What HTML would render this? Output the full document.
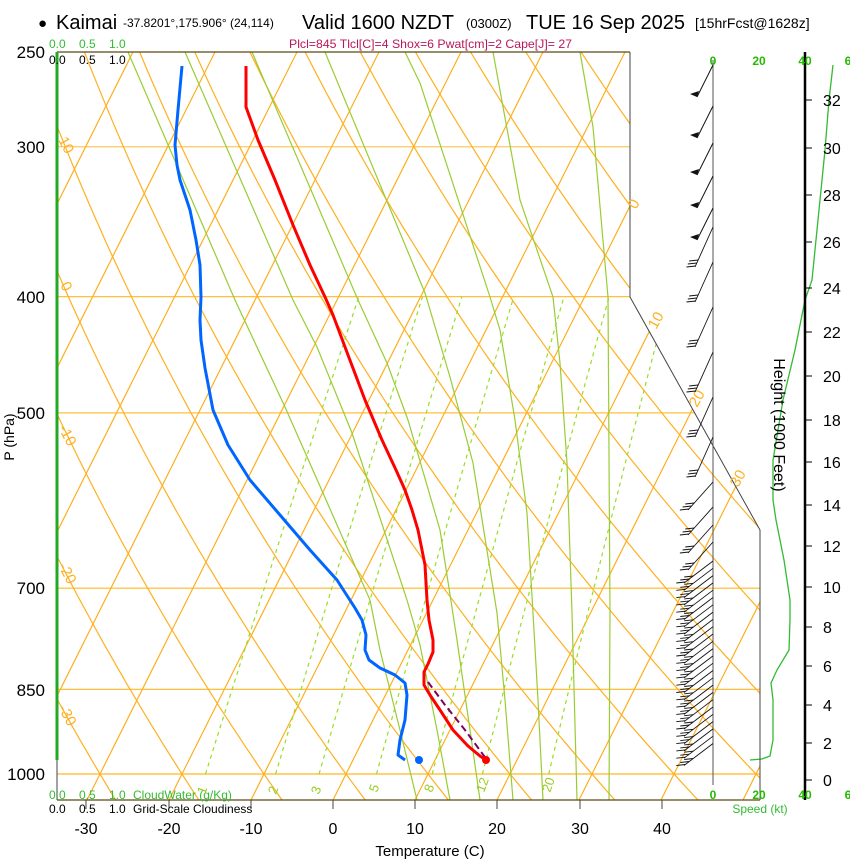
<!DOCTYPE html>
<html><head><meta charset="utf-8">
<style>
html,body{margin:0;padding:0;background:#fff;}
svg{display:block;font-family:"Liberation Sans",Arial,sans-serif;}
</style></head>
<body>
<svg id="s" width="850" height="860" viewBox="0 0 850 860" xmlns="http://www.w3.org/2000/svg">
<defs>
<clipPath id="cp"><polygon points="57,52 630,52 630,297 760,530 760,800 57,800"/></clipPath>
</defs>
<g id="grid" clip-path="url(#cp)"></g>
<g id="data"></g>
<!-- frame -->
<line x1="57" y1="52" x2="630" y2="52" stroke="#5a4a10" stroke-width="1.2"/>
<line x1="57" y1="800" x2="760" y2="800" stroke="#5a4a10" stroke-width="1.2"/>
<polyline points="630,52 630,297 760,530 760,800" fill="none" stroke="#444" stroke-width="1"/>
<line x1="57" y1="760" x2="57" y2="800" stroke="#444" stroke-width="1"/>
<line x1="57" y1="52" x2="57" y2="760" stroke="#22aa22" stroke-width="3"/>
<g stroke="#444" stroke-width="1">
<line x1="86" y1="800" x2="86" y2="809"/><line x1="169" y1="800" x2="169" y2="809"/>
<line x1="251" y1="800" x2="251" y2="809"/><line x1="333" y1="800" x2="333" y2="809"/>
<line x1="415" y1="800" x2="415" y2="809"/><line x1="497" y1="800" x2="497" y2="809"/>
<line x1="580" y1="800" x2="580" y2="809"/><line x1="662" y1="800" x2="662" y2="809"/>
</g>
<!-- wind axis -->
<line x1="713" y1="60" x2="713" y2="785" stroke="#555" stroke-width="1"/>
<!-- height axis -->
<line x1="805" y1="52" x2="805" y2="800" stroke="#000" stroke-width="2.5"/>
<g id="hticks" stroke="#000" stroke-width="1"></g>
<g font-size="16" fill="#000">
<text x="823" y="786">0</text><text x="823" y="749">2</text><text x="823" y="711">4</text>
<text x="823" y="672">6</text><text x="823" y="633">8</text><text x="823" y="593">10</text>
<text x="823" y="552">12</text><text x="823" y="511">14</text><text x="823" y="468">16</text>
<text x="823" y="426">18</text><text x="823" y="382">20</text><text x="823" y="338">22</text>
<text x="823" y="294">24</text><text x="823" y="248">26</text><text x="823" y="201">28</text>
<text x="823" y="154">30</text><text x="823" y="106">32</text>
</g>
<text transform="translate(774,425) rotate(90)" text-anchor="middle" font-size="16">Height (1000 Feet)</text>
<!-- speed labels -->
<g font-size="12" font-weight="bold" fill="#22bb00" text-anchor="middle">
<text x="713" y="65">0</text><text x="759" y="65">20</text><text x="805" y="65">40</text><text x="848" y="65">6</text>
<text x="713" y="799">0</text><text x="759" y="799">20</text><text x="805" y="799">40</text><text x="848" y="799">6</text>
</g>
<text x="760" y="813" font-size="12" fill="#33bb33" text-anchor="middle">Speed (kt)</text>
<!-- title -->
<text x="38" y="28" font-size="15">●</text>
<text x="56" y="29" font-size="20">Kaimai</text>
<text x="123" y="27" font-size="12">-37.8201°,175.906° (24,114)</text>
<text x="302" y="29" font-size="20">Valid 1600 NZDT</text>
<text x="466" y="28" font-size="13">(0300Z)</text>
<text x="526" y="29" font-size="20">TUE 16 Sep 2025</text>
<text x="695" y="28" font-size="14">[15hrFcst@1628z]</text>
<text x="289" y="48" font-size="12" fill="#b8185a" textLength="283" lengthAdjust="spacingAndGlyphs">Plcl=845 Tlcl[C]=4 Shox=6 Pwat[cm]=2 Cape[J]= 27</text>
<!-- cloud labels -->
<g font-size="12">
<text x="49" y="48" fill="#33bb33">0.0</text><text x="79" y="48" fill="#33bb33">0.5</text><text x="109" y="48" fill="#33bb33">1.0</text>
<text x="49" y="64">0.0</text><text x="79" y="64">0.5</text><text x="109" y="64">1.0</text>
<text x="49" y="799" fill="#33bb33">0.0</text><text x="79" y="799" fill="#33bb33">0.5</text><text x="109" y="799" fill="#33bb33">1.0</text>
<text x="133" y="799" fill="#33bb33">CloudWater (g/Kg)</text>
<text x="49" y="813">0.0</text><text x="79" y="813">0.5</text><text x="109" y="813">1.0</text>
<text x="133" y="813">Grid-Scale Cloudiness</text>
</g>
<!-- pressure labels -->
<g font-size="17" text-anchor="end">
<text x="45" y="58">250</text><text x="45" y="153">300</text><text x="45" y="303">400</text>
<text x="45" y="419">500</text><text x="45" y="594">700</text><text x="45" y="696">850</text>
<text x="45" y="780">1000</text>
</g>
<text transform="translate(14,437) rotate(-90)" text-anchor="middle" font-size="14">P (hPa)</text>
<!-- temp labels -->
<g font-size="16" text-anchor="middle">
<text x="86" y="834">-30</text><text x="169" y="834">-20</text><text x="251" y="834">-10</text>
<text x="333" y="834">0</text><text x="415" y="834">10</text><text x="497" y="834">20</text>
<text x="580" y="834">30</text><text x="662" y="834">40</text>
</g>
<text x="430" y="856" font-size="15" text-anchor="middle">Temperature (C)</text>
<!-- orange labels -->
<g font-size="15" fill="#ffb020">
<text transform="translate(58,140) rotate(62)">10</text>
<text transform="translate(60,285) rotate(62)">0</text>
<text transform="translate(58,428) rotate(62)">-10</text>
<text transform="translate(58,566) rotate(62)">-20</text>
<text transform="translate(58,708) rotate(62)">-30</text>
<text transform="translate(636,210) rotate(-60)">0</text>
<text transform="translate(656,330) rotate(-60)">10</text>
<text transform="translate(697,408) rotate(-60)">20</text>
<text transform="translate(738,488) rotate(-60)">30</text>
</g>
<g font-size="13" fill="#99cc22">
<text transform="translate(205,795) rotate(-70)">1</text>
<text transform="translate(276,795) rotate(-70)">2</text>
<text transform="translate(319,795) rotate(-70)">3</text>
<text transform="translate(377,793) rotate(-70)">5</text>
<text transform="translate(432,793) rotate(-70)">8</text>
<text transform="translate(484,793) rotate(-70)">12</text>
<text transform="translate(550,793) rotate(-70)">20</text>
</g>
<g id="barbs" stroke="#111" stroke-width="1" fill="#111"></g>
<script>
(function(){
var NS="http://www.w3.org/2000/svg";
function el(parent,tag,attrs){var e=document.createElementNS(NS,tag);for(var k in attrs)e.setAttribute(k,attrs[k]);parent.appendChild(e);return e;}
function Y(p){return 774-521*Math.log(1000/p);}
function X(T,y){return 333+8.2*T+0.5*(800-y);}
var g=document.getElementById('grid');
// pressure lines
[[300,'#ffc860'],[400,'#ffc040'],[500,'#ffc040'],[700,'#ffb820'],[850,'#ffb820'],[1000,'#ffb820']].forEach(function(a){
 var y=Y(a[0]);el(g,'line',{x1:57,y1:y,x2:760,y2:y,stroke:a[1],'stroke-width':1.2});});
// isotherms
for(var T=-140;T<=60;T+=10){el(g,'line',{x1:X(T,800),y1:800,x2:X(T,52),y2:52,stroke:'#ffb020','stroke-width':1.2});}
// dry adiabats
for(var th=-60;th<=220;th+=10){var pts=[];for(var p=1080;p>=240;p-=10){var y=Y(p);var t=(th+273.15)*Math.pow(p/1000,0.286)-273.15;pts.push(X(t,y).toFixed(1)+','+y.toFixed(1));}
 el(g,'polyline',{points:pts.join(' '),fill:'none',stroke:'#ffb020','stroke-width':1.2});}
// mixing ratio
[1,2,3,5,8,12,20].forEach(function(w){var pts=[];for(var p=1000;p>=400;p-=10){var e=w*p/(622+w);var l=Math.log(e/6.112);var td=243.5*l/(17.67-l);var y=Y(p);pts.push(X(td,y).toFixed(1)+','+y.toFixed(1));}
 el(g,'polyline',{points:pts.join(' '),fill:'none',stroke:'#99dd22','stroke-width':1.2,'stroke-dasharray':'4,4'});});
// moist adiabats (traced)
var ma=[
"128,52 235,300 285,407 323,493 370,600 380,650 400,730 417,800",
"185,52 293,300 317,347 352,433 407,600 420,645 437,730 450,800",
"252,52 358,300 387,363 408,420 440,530 457,640 470,730 480,800",
"325,52 425,293 450,377 473,463 497,613 505,700 513,800",
"405,52 420,83 490,297 500,330 515,420 527,513 533,613 538,700 543,800",
"493,52 520,200 553,297 560,363 567,463 572,613 577,800",
"580,52 593,127 608,297 610,613 609,800"];
ma.forEach(function(s){el(g,'polyline',{points:s,fill:'none',stroke:'#99cc33','stroke-width':1.2});});
// height ticks
var ht=document.getElementById('hticks');
[780,743,705,666,627,587,546,505,462,420,376,332,288,242,195,148,100].forEach(function(y){el(ht,'line',{x1:805,y1:y,x2:812,y2:y});});
var d=document.getElementById('data');
// green speed curve
el(d,'polyline',{points:"750,760 762,759 770,756 773,740 773,700 771,683 777,670 789,650 790,620 790,600 784,560 776,520 773,500 773,460 783,400 795,350 805,300 812,280 818,220 825,150 829,100 833,65",fill:'none',stroke:'#33bb33','stroke-width':1.3});
// dewpoint
el(d,'polyline',{points:"182,66 178,110 175,145 177,165 180,180 190,210 196,240 200,265 201,297 200,320 201,340 205,368 213,410 228,445 250,480 280,515 310,550 337,580 355,608 362,620 366,635 365,650 369,660 380,668 395,675 405,683 407,695 405,720 400,740 398,755 405,760",fill:'none',stroke:'#0066ff','stroke-width':3,'stroke-linejoin':'round'});
el(d,'circle',{cx:419,cy:760,r:4,fill:'#0066ff'});
// temperature
el(d,'polyline',{points:"246,66 246,107 258,140 275,180 293,225 310,265 325,297 333,315 348,355 365,400 382,440 396,470 405,490 412,510 418,530 422,550 425,565 427,600 429,620 433,640 433,652 428,664 424,672 424,685 430,695 440,710 453,730 468,746 480,756 486,760",fill:'none',stroke:'#ff0000','stroke-width':3,'stroke-linejoin':'round'});
el(d,'polyline',{points:"428,682 445,705 465,730 487,760",fill:'none',stroke:'#800060','stroke-width':2,'stroke-dasharray':'7,4'});
el(d,'circle',{cx:486,cy:760,r:4,fill:'#ff0000'});
// wind barbs
var b=document.getElementById('barbs');
[97,138,175,208,240].forEach(function(y){
 el(b,'line',{x1:713,y1:y-32,x2:697,y2:y});
 el(b,'polygon',{points:(690)+','+(y-3)+' 697,'+y+' 699,'+(y-6),stroke:'none'});
});
var ys=[267,302,347,392,437,477,510,535,553,570];
for(var y=583;y<=768;y+=7.3)ys.push(y);
ys.forEach(function(y,i){
 var h=i<6?40:(i<10?28:22), xe=i<6?695:(i<10?688:684);
 el(b,'line',{x1:713,y1:y-h,x2:xe,y2:y,'stroke-width':0.9});
 var dx=(713-xe)/h;
 for(var k=0;k<3;k++){var yy=y-k*3-1;var xx=xe+dx*(k*3+1);el(b,'line',{x1:xx,y1:yy,x2:xx-9,y2:yy+1,'stroke-width':0.9});}
});
})();
</script>
</svg>
</body></html>
